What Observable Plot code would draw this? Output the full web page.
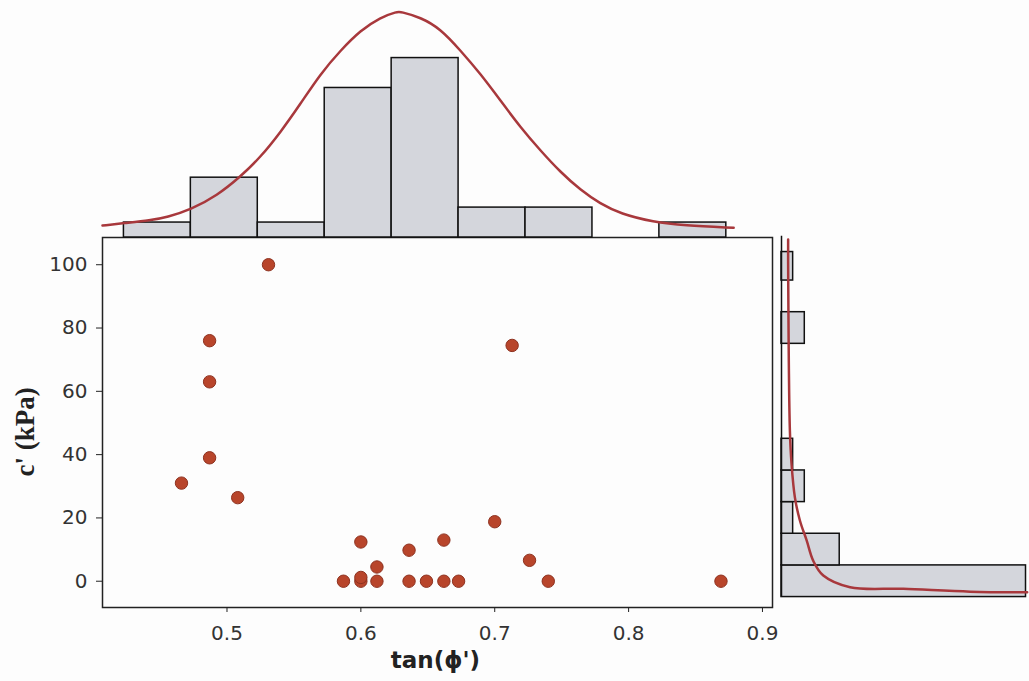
<!DOCTYPE html>
<html>
<head>
<meta charset="utf-8">
<script src="https://cdn.jsdelivr.net/npm/d3@7"></script>
<script src="https://cdn.jsdelivr.net/npm/@observablehq/plot@0.6"></script>
<style>
  html, body { margin: 0; padding: 0; background: #fdfdfd; }
  #wrap { position: relative; width: 1029px; height: 681px; overflow: hidden; background: #fdfdfd; }
  #wrap svg { position: absolute; }
</style>
</head>
<body>
<div id="wrap"></div>
<script>
// ---- Scatter data: tan(phi') vs c' (kPa) ----
const tanPhi = [0.531, 0.487, 0.487, 0.487, 0.466, 0.508, 0.713, 0.700, 0.600, 0.662, 0.636, 0.726, 0.612,
                0.587, 0.600, 0.600, 0.612, 0.636, 0.649, 0.662, 0.673, 0.740, 0.869];
const cPrime = [100, 76, 63, 39, 31, 26.4, 74.5, 18.8, 12.4, 13.0, 9.8, 6.6, 4.5,
                0, 0, 1.2, 0, 0, 0, 0, 0, 0, 0];

// ---- Top histogram of tan(phi') ----
const tanBinStart = [0.423, 0.473, 0.523, 0.573, 0.623, 0.673, 0.723, 0.773, 0.823];
const tanBinEnd   = [0.473, 0.523, 0.573, 0.623, 0.673, 0.723, 0.773, 0.823, 0.873];
const tanBinCount = [1, 4, 1, 10, 12, 2, 2, 0, 1];
// fitted curve
const tanCurveX = [0.407, 0.4229, 0.4429, 0.4553, 0.4727, 0.4927, 0.5101, 0.5250, 0.5400, 0.5549, 0.5698,
                   0.5848, 0.5997, 0.6146, 0.6271, 0.6296, 0.6445, 0.6595, 0.6744, 0.6893, 0.7043, 0.7192,
                   0.7341, 0.7491, 0.7640, 0.7789, 0.7939, 0.8187, 0.8412, 0.8785];
const tanCurveY = [0.80, 0.96, 1.14, 1.36, 1.85, 2.81, 4.07, 5.37, 7.04, 8.94, 10.95,
                   12.51, 13.85, 14.73, 15.10, 15.10, 14.73, 13.96, 12.51, 10.95, 9.16, 7.37,
                   5.82, 4.37, 3.18, 2.25, 1.59, 1.03, 0.80, 0.65];

// ---- Right histogram of c' ----
const cBinStart = [-5, 5, 15, 25, 35, 45, 55, 65, 75, 85, 95];
const cBinEnd   = [5, 15, 25, 35, 45, 55, 65, 75, 85, 95, 104];
const cBinCount = [21, 5, 1, 2, 1, 0, 0, 0, 2, 0, 1];
const cCurveC     = [108, 100.4, 47.6, 37.2, 26.5, 19.2, 12.9, 6.5, 1.8, -1.9, -2.4, -3.3, -3.5];
const cCurveCount = [0.57, 0.57, 0.72, 0.86, 1.15, 1.58, 2.16, 2.72, 3.59, 5.89, 10.46, 16.2, 21.1];

const xTicks = [0.5, 0.6, 0.7, 0.8, 0.9];
const yTicks = [0, 20, 40, 60, 80, 100];

const xDomain = [0.407, 0.9075];
const yDomain = [-8.3, 108.6];
const barFill = "#d4d6dc";
const curveColor = "#a8383c";
const font = "'DejaVu Sans', Verdana, sans-serif";

const wrap = document.getElementById("wrap");

// Scatter panel
const pts = tanPhi.map((t, i) => ({t, c: cPrime[i]}));
const scatter = Plot.plot({
  width: 780, height: 681,
  marginLeft: 102, marginRight: 8, marginTop: 237, marginBottom: 74,
  style: {background: "transparent", overflow: "visible", fontFamily: font, color: "#333"},
  x: {domain: xDomain},
  y: {domain: yDomain},
  marks: [
    Plot.frame({stroke: "#222", strokeWidth: 1.5}),
    Plot.axisX({ticks: xTicks, tickFormat: d3.format(".1f"), tickSize: 5, tickPadding: 13, fontSize: 20, label: null, stroke: "#222"}),
    Plot.axisY({ticks: yTicks, tickSize: 6, tickPadding: 9, fontSize: 20, label: null, stroke: "#222"}),
    Plot.dot(pts, {x: "t", y: "c", r: 6.2, fill: "#b8452b", stroke: "#8e3220", strokeWidth: 1}),
    Plot.text(["tan(ϕ')"], {frameAnchor: "bottom", dx: -2, dy: 60, fontSize: 23, fontWeight: "bold", fill: "#222", fontFamily: font}),
    Plot.text(["c' (kPa)"], {frameAnchor: "left", dx: -77, dy: 54, rotate: -90, fontSize: 27, fontWeight: "bold", fill: "#222", fontFamily: "'Liberation Serif', 'Times New Roman', serif"})
  ]
});
scatter.style.left = "0px"; scatter.style.top = "0px";
wrap.appendChild(scatter);

// Top histogram
const topBins = tanBinStart.map((s, i) => ({x1: s, x2: tanBinEnd[i], n: tanBinCount[i]})).filter(d => d.n > 0);
const topCurve = tanCurveX.map((x, i) => ({x, y: tanCurveY[i]}));
const topHist = Plot.plot({
  width: 780, height: 237,
  marginLeft: 102, marginRight: 8, marginTop: 0, marginBottom: 0,
  style: {background: "transparent", overflow: "visible"},
  x: {domain: xDomain, axis: null},
  y: {domain: [0, 15.85], axis: null},
  marks: [
    Plot.rectY(topBins, {x1: "x1", x2: "x2", y: "n", fill: barFill, stroke: "#111", strokeWidth: 1.5}),
    Plot.line(topCurve, {x: "x", y: "y", stroke: curveColor, strokeWidth: 2.5, curve: "basis"})
  ]
});
topHist.style.left = "0px"; topHist.style.top = "0px";
wrap.appendChild(topHist);

// Right histogram
const rightBins = cBinStart.map((s, i) => ({y1: s, y2: cBinEnd[i], n: cBinCount[i]})).filter(d => d.n > 0);
const rightCurve = cCurveC.map((c, i) => ({c, n: cCurveCount[i]}));
const rightHist = Plot.plot({
  width: 248, height: 681,
  marginLeft: 0, marginRight: 0, marginTop: 237, marginBottom: 74,
  style: {background: "transparent", overflow: "visible"},
  x: {domain: [0, 21.3], axis: null},
  y: {domain: yDomain, axis: null},
  marks: [
    Plot.rectX(rightBins, {y1: "y1", y2: "y2", x: "n", fill: barFill, stroke: "#111", strokeWidth: 1.5}),
    Plot.ruleX([0], {y1: -5, y2: 109, stroke: "#111", strokeWidth: 1.5}),
    Plot.line(rightCurve, {x: "n", y: "c", stroke: curveColor, strokeWidth: 2.5, curve: "catmull-rom"})
  ]
});
rightHist.style.left = "781px"; rightHist.style.top = "0px";
wrap.appendChild(rightHist);
</script>
</body>
</html>
